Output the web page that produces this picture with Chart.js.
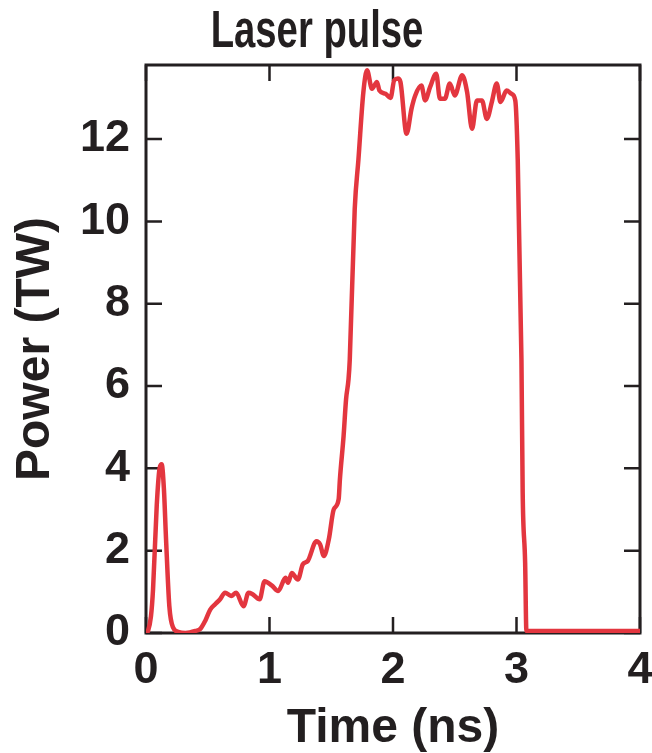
<!DOCTYPE html>
<html>
<head>
<meta charset="utf-8">
<script src="https://cdn.jsdelivr.net/npm/chart.js@4.4.0/dist/chart.umd.min.js"></script>
<style>
  body { margin: 0; background: #fff; }
  #wrap { width: 652px; height: 753px; }
</style>
</head>
<body>
<div id="wrap"><canvas id="pulseChart" width="652" height="753"></canvas></div>
<script>
// Laser pulse shape
const timeNs = [0.0, 0.016, 0.04, 0.057, 0.087, 0.11, 0.127, 0.145, 0.162, 0.189, 0.22, 0.26, 0.32, 0.40, 0.44, 0.48,
  0.52, 0.56, 0.60, 0.64, 0.69, 0.73, 0.79, 0.83, 0.86, 0.92, 0.96, 1.02, 1.07, 1.13, 1.15, 1.18, 1.23, 1.27, 1.31,
  1.38, 1.41, 1.44, 1.48, 1.52, 1.56, 1.57, 1.60, 1.62, 1.64, 1.65, 1.69, 1.72, 1.76, 1.79, 1.83, 1.87, 1.89, 1.94,
  1.98, 2.01, 2.04, 2.06, 2.11, 2.15, 2.18, 2.23, 2.26, 2.30, 2.35, 2.38, 2.42, 2.46, 2.50, 2.56, 2.60, 2.64, 2.68,
  2.72, 2.76, 2.80, 2.84, 2.87, 2.92, 2.96, 2.99, 3.01, 3.04, 3.05, 3.07, 3.08, 4.0];
const powerTW = [0, 0.05, 0.4, 1.06, 3.1, 4.0, 4.1, 3.5, 2.3, 0.65, 0.13, 0.03, 0.0, 0.05, 0.1, 0.3,
  0.57, 0.7, 0.82, 0.98, 0.9, 0.98, 0.65, 0.98, 0.95, 0.82, 1.26, 1.15, 1.02, 1.34, 1.22, 1.46, 1.3, 1.67, 1.75,
  2.23, 2.15, 1.87, 2.27, 3.0, 3.25, 3.73, 4.79, 5.68, 6.17, 6.65, 10.3, 11.5, 13.14, 13.67, 13.22, 13.39, 13.18, 13.1,
  13.0, 13.43, 13.47, 13.39, 12.13, 12.74, 13.06, 13.3, 12.94, 13.26, 13.59, 12.98, 12.98, 13.35, 13.06, 13.55, 13.14, 12.25, 12.94,
  12.94, 12.49, 12.9, 13.35, 12.9, 13.18, 13.1, 12.94, 11.5, 6.65, 3.42, 1.7, 0.05, 0.05];
const xTicks = [0, 1, 2, 3, 4];
const yTicks = [0, 2, 4, 6, 8, 10, 12];
const chartTitle = 'Laser pulse';

const ink = '#231f20';
const sans = "'Liberation Sans', Arial, sans-serif";
const axisTitleFont = { family: sans, size: 48, weight: 'bold', lineHeight: 1 };
const tickFont = { family: sans, size: 45, weight: 'bold' };

// frame with inward ticks on all four sides, drawn under the curve
const frameTicks = {
  id: 'frameTicks',
  beforeDatasetsDraw(chart) {
    const { ctx, chartArea: { left, right, top, bottom }, scales: { x, y } } = chart;
    const len = 16;
    ctx.save();
    ctx.strokeStyle = ink;
    ctx.lineWidth = 2.5;
    ctx.beginPath();
    x.ticks.forEach(t => {
      const px = x.getPixelForValue(t.value);
      ctx.moveTo(px, bottom); ctx.lineTo(px, bottom - len);
      ctx.moveTo(px, top); ctx.lineTo(px, top + len);
    });
    y.ticks.forEach(t => {
      const py = y.getPixelForValue(t.value);
      ctx.moveTo(left, py); ctx.lineTo(left + len, py);
      ctx.moveTo(right, py); ctx.lineTo(right - len, py);
    });
    ctx.stroke();
    ctx.lineWidth = 3;
    ctx.strokeRect(left, top, right - left, bottom - top);
    ctx.restore();
  },
  // the title in the figure is a condensed bold face
  afterDraw(chart) {
    const ctx = chart.ctx;
    ctx.save();
    ctx.fillStyle = ink;
    ctx.font = 'bold 51px ' + sans;
    ctx.textAlign = 'center';
    ctx.textBaseline = 'alphabetic';
    ctx.translate(317, 47);
    ctx.scale(0.75, 1);
    ctx.fillText(chartTitle, 0, 0);
    ctx.restore();
  }
};

new Chart(document.getElementById('pulseChart'), {
  type: 'line',
  data: {
    datasets: [{
      data: timeNs.map((t, i) => ({ x: t, y: powerTW[i] })),
      borderColor: '#e3363f',
      borderWidth: 4.5,
      pointRadius: 0,
      cubicInterpolationMode: 'monotone',
      fill: false
    }]
  },
  options: {
    responsive: false,
    animation: false,
    layout: { padding: { left: 0, right: 0, top: 65, bottom: 0 } },
    plugins: {
      legend: { display: false },
      tooltip: { enabled: false },
      title: { display: false }
    },
    scales: {
      x: {
        type: 'linear',
        min: 0,
        max: 4,
        afterBuildTicks: s => { s.ticks = xTicks.map(v => ({ value: v })); },
        afterFit: s => { s.height = 120; s.paddingRight = 12; },
        grid: { display: false },
        border: { display: false },
        ticks: { color: ink, font: tickFont, padding: 3, maxRotation: 0 },
        title: { display: true, text: 'Time (ns)', color: ink, font: axisTitleFont, padding: { top: 0, bottom: 0 } }
      },
      y: {
        min: 0,
        max: 13.8,
        afterBuildTicks: s => { s.ticks = yTicks.map(v => ({ value: v })); },
        afterFit: s => { s.width = 146; },
        grid: { display: false },
        border: { display: false },
        ticks: { color: ink, font: tickFont, padding: 8 },
        title: { display: true, text: 'Power (TW)', color: ink, font: axisTitleFont, padding: { top: 12, bottom: 0 } }
      }
    }
  },
  plugins: [frameTicks]
});
</script>
</body>
</html>
